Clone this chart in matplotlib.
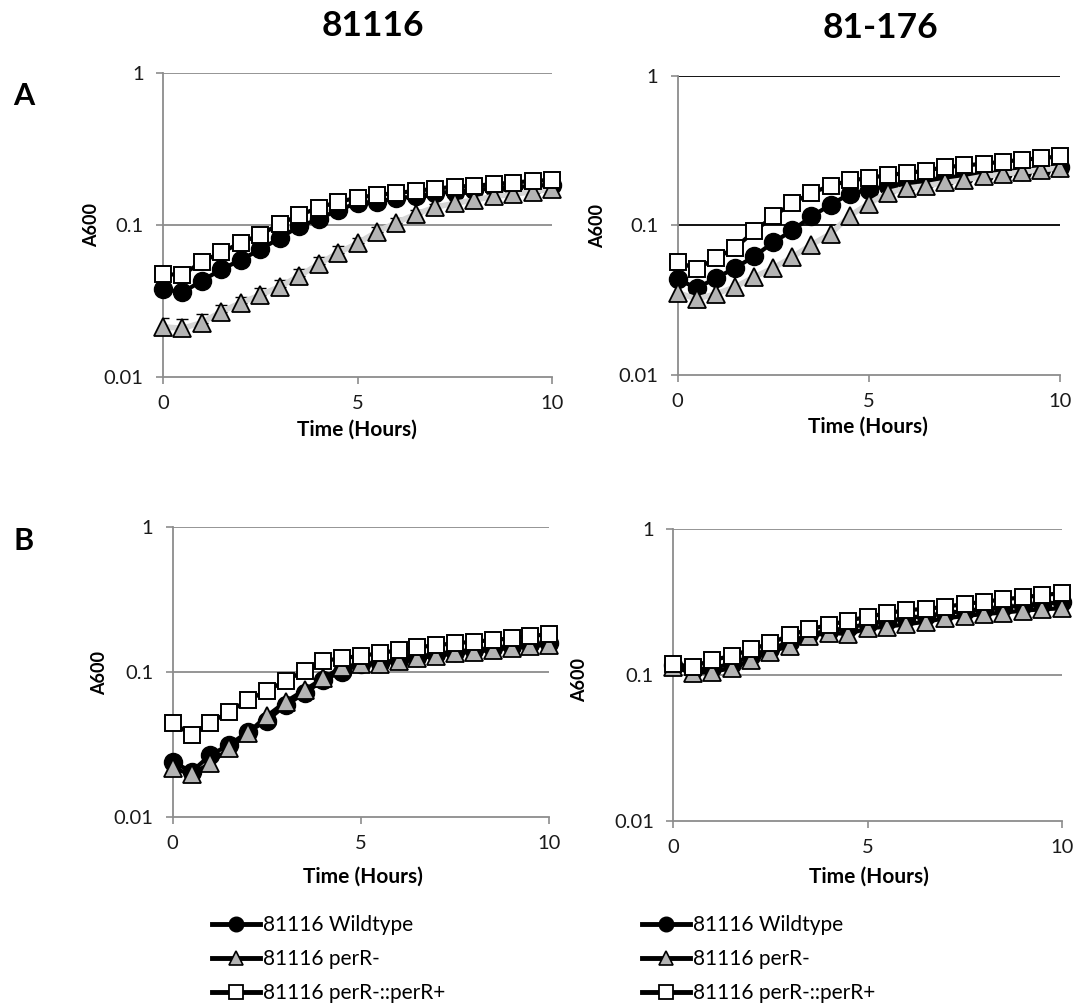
"""Growth curves (A600 vs time) for 81116 and 81-176 strains, panels A and B."""

import matplotlib
matplotlib.use("Agg")
import matplotlib.pyplot as plt
from matplotlib.lines import Line2D
from matplotlib.ticker import FixedLocator, NullLocator

plt.rcParams["font.family"] = ["Lato", "DejaVu Sans"]

W, H = 1080, 1005

time_h = [0, 0.5, 1, 1.5, 2, 2.5, 3, 3.5, 4, 4.5, 5,
          5.5, 6, 6.5, 7, 7.5, 8, 8.5, 9, 9.5, 10]

series_labels = ["81116 Wildtype", "81116 perR-", "81116 perR-::perR+"]

# panel A, 81116
wt_a_81116 = [0.038, 0.036, 0.043, 0.051, 0.059, 0.069, 0.082, 0.098, 0.109, 0.126, 0.139,
              0.142, 0.150, 0.154, 0.162, 0.166, 0.170, 0.174, 0.177, 0.181, 0.183]
perr_a_81116 = [0.0214, 0.0209, 0.0228, 0.0269, 0.0308, 0.0346, 0.0393, 0.0462, 0.0553, 0.0657, 0.0757,
                0.0904, 0.1036, 0.118, 0.131, 0.139, 0.146, 0.154, 0.159, 0.166, 0.172]
perr_a_81116_err = [0.003, 0.003, 0.003, 0.003, 0.003, 0.004, 0.004, 0.005, 0.006, 0.007, 0.006,
                    0.007, 0.008, 0.008, 0.007, 0.006, 0.006, 0.006, 0.006, 0.005, 0.005]
comp_a_81116 = [0.0476, 0.0469, 0.0574, 0.066, 0.0765, 0.0863, 0.1015, 0.116, 0.130, 0.142, 0.151,
                0.158, 0.162, 0.168, 0.173, 0.179, 0.181, 0.186, 0.190, 0.195, 0.198]

# panel A, 81-176
wt_a_81176 = [0.0438, 0.0381, 0.0444, 0.0519, 0.0621, 0.077, 0.0927, 0.115, 0.1375, 0.163, 0.173,
              0.1845, 0.192, 0.200, 0.2075, 0.215, 0.221, 0.2275, 0.233, 0.2405, 0.246]
perr_a_81176 = [0.0356, 0.0322, 0.0349, 0.0387, 0.0452, 0.0519, 0.0615, 0.0744, 0.088, 0.116, 0.140,
                0.166, 0.178, 0.1845, 0.194, 0.202, 0.213, 0.2206, 0.2275, 0.236, 0.242]
comp_a_81176 = [0.0574, 0.0511, 0.0605, 0.0706, 0.0912, 0.115, 0.141, 0.165, 0.1845, 0.200, 0.2075,
                0.218, 0.224, 0.233, 0.246, 0.252, 0.259, 0.267, 0.275, 0.282, 0.290]

# panel B, 81116
wt_b_81116 = [0.0242, 0.0206, 0.0269, 0.0316, 0.0389, 0.0464, 0.0594, 0.0716, 0.0885, 0.101, 0.114,
              0.1165, 0.1216, 0.128, 0.1337, 0.1387, 0.1425, 0.146, 0.1517, 0.156, 0.1585]
perr_b_81116 = [0.0218, 0.0198, 0.0236, 0.0299, 0.0383, 0.050, 0.0627, 0.0755, 0.091, 0.109, 0.114,
                0.114, 0.120, 0.125, 0.130, 0.135, 0.139, 0.1425, 0.148, 0.152, 0.155]
comp_b_81116 = [0.0449, 0.037, 0.0449, 0.0535, 0.0644, 0.0747, 0.0875, 0.1026, 0.120, 0.125, 0.130,
                0.1352, 0.1426, 0.1487, 0.154, 0.1585, 0.1626, 0.167, 0.1715, 0.178, 0.183]

# panel B, 81-176
wt_b_81176 = [0.117, 0.108, 0.112, 0.119, 0.135, 0.152, 0.168, 0.19, 0.202, 0.21, 0.225,
              0.235, 0.245, 0.255, 0.265, 0.275, 0.283, 0.292, 0.30, 0.308, 0.315]
perr_b_81176 = [0.114, 0.1027, 0.1054, 0.111, 0.1267, 0.1445, 0.158, 0.185, 0.195, 0.191, 0.209,
                0.2147, 0.2228, 0.2323, 0.2449, 0.254, 0.2623, 0.268, 0.2765, 0.2825, 0.287]
comp_b_81176 = [0.119, 0.114, 0.1267, 0.135, 0.150, 0.165, 0.188, 0.206, 0.2205, 0.236, 0.251,
                0.265, 0.279, 0.284, 0.294, 0.307, 0.318, 0.331, 0.341, 0.354, 0.364]

y_ticks = [0.01, 0.1, 1]
y_tick_labels = ["0.01", "0.1", "1"]
x_ticks = [0, 5, 10]

TRI_GREY = "#b4b4b4"
AXIS_GREY = "#8c8c8c"


def px_rect(x0, y_top, x1, y_bot):
    return [x0 / W, 1 - y_bot / H, (x1 - x0) / W, (y_bot - y_top) / H]


def fig_txt(fig, x, y, s, **kw):
    fig.text(x / W, 1 - y / H, s, ha="center", va="center", **kw)


def draw_panel(ax, wt, perr, comp, perr_line, grid_color, perr_err=None):
    ax.plot(time_h, wt, color="black", lw=3, marker="o", ms=13,
            mfc="black", mec="black", zorder=3, clip_on=False)
    ax.plot(time_h, perr, color=perr_line, lw=4 if perr_line != "black" else 3,
            marker="^", ms=12.5, mfc=TRI_GREY, mec="black", mew=1.3,
            zorder=4, clip_on=False)
    if perr_err is not None:
        ax.errorbar(time_h, perr, yerr=[[0] * len(perr_err), perr_err], fmt="none",
                    ecolor="black", elinewidth=1, capsize=4, zorder=3.5)
    ax.plot(time_h, comp, color="black", lw=3, marker="s", ms=12,
            mfc="white", mec="black", mew=1.4, zorder=5, clip_on=False)

    ax.set_yscale("log")
    ax.set_ylim(0.01, 1)
    ax.set_xlim(0, 10)
    ax.yaxis.set_major_locator(FixedLocator(y_ticks))
    ax.yaxis.set_minor_locator(NullLocator())
    ax.set_yticklabels(y_tick_labels)
    ax.set_xticks(x_ticks)
    ax.set_xticklabels([str(t) for t in x_ticks])

    for gy in [0.1, 1]:
        ax.axhline(gy, color=grid_color, lw=1.3, zorder=1)

    for side in ["top", "right"]:
        ax.spines[side].set_visible(False)
    for side in ["left", "bottom"]:
        ax.spines[side].set_color(AXIS_GREY)
        ax.spines[side].set_linewidth(1.3)
    ax.tick_params(axis="both", direction="out", length=5, width=1.2,
                   color=AXIS_GREY, labelsize=14.5, labelcolor="#1a1a1a")
    ax.tick_params(axis="y", pad=9)
    ax.tick_params(axis="x", pad=8)


fig = plt.figure(figsize=(W / 100, H / 100), dpi=100)

ax_a1 = fig.add_axes(px_rect(163, 73, 552, 377))
ax_a2 = fig.add_axes(px_rect(677.5, 76, 1060, 375))
ax_b1 = fig.add_axes(px_rect(172.7, 527.3, 549.3, 817.3))
ax_b2 = fig.add_axes(px_rect(673.3, 529.3, 1061.7, 820.7))

draw_panel(ax_a1, wt_a_81116, perr_a_81116, comp_a_81116, "#d6d6d6", AXIS_GREY,
           perr_err=perr_a_81116_err)
draw_panel(ax_a2, wt_a_81176, perr_a_81176, comp_a_81176, "#d6d6d6", "black")
draw_panel(ax_b1, wt_b_81116, perr_b_81116, comp_b_81116, "black", AXIS_GREY)
draw_panel(ax_b2, wt_b_81176, perr_b_81176, comp_b_81176, "black", AXIS_GREY)

# column titles and panel letters
fig_txt(fig, 373, 26, "81116", fontsize=25.5, fontweight="bold")
fig_txt(fig, 880, 28, "81-176", fontsize=25.5, fontweight="bold")
fig_txt(fig, 24, 96, "A", fontsize=22, fontweight="bold")
fig_txt(fig, 24, 541, "B", fontsize=22, fontweight="bold")

# axis labels
for (x, y) in [(92, 225), (598, 226), (100, 673), (580, 680)]:
    fig_txt(fig, x, y, "A600", fontsize=13, fontweight="bold", rotation=90)
for (x, y) in [(357, 430), (868, 427), (363, 877), (869, 877)]:
    fig_txt(fig, x, y, "Time (Hours)", fontsize=15, fontweight="bold")

# legends under panel B
handles = [
    Line2D([], [], color="black", lw=3.5, marker="o", ms=10.5, mfc="black", mec="black"),
    Line2D([], [], color="black", lw=3.5, marker="^", ms=10.5, mfc=TRI_GREY, mec="black", mew=1.2),
    Line2D([], [], color="black", lw=3.5, marker="s", ms=10, mfc="white", mec="black", mew=1.3),
]
for x0 in [212, 642]:
    fig.legend(handles, series_labels, loc="upper left",
               bbox_to_anchor=(x0 / W, 1 - 915 / H), frameon=False,
               fontsize=15, handlelength=2.3, handletextpad=0.15,
               labelspacing=0.68, borderpad=0, borderaxespad=0)

fig.savefig("out.png", dpi=100)
